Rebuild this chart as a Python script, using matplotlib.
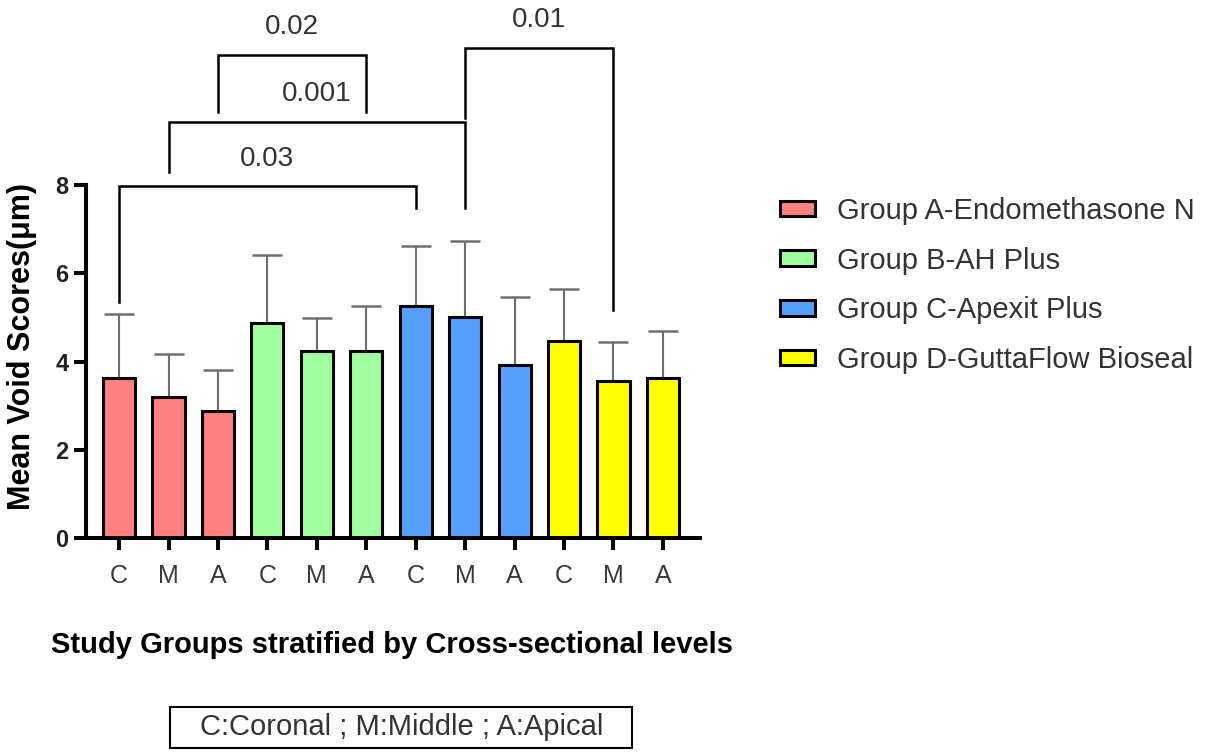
import matplotlib
matplotlib.use('Agg')
import matplotlib.pyplot as plt
from matplotlib.patches import Patch, Rectangle
import numpy as np

plt.rcParams['font.family'] = ['Liberation Sans', 'DejaVu Sans']

groups = ['Group A-Endomethasone N', 'Group B-AH Plus',
          'Group C-Apexit Plus', 'Group D-GuttaFlow Bioseal']
levels = ['C', 'M', 'A']
colors = ['#FF8080', '#A0FFA0', '#55A0FF', '#FFFF00']
means = [[3.62, 3.19, 2.89],
         [4.87, 4.24, 4.24],
         [5.25, 5.01, 3.92],
         [4.46, 3.56, 3.64]]
sds = [[1.47, 0.98, 0.91],
       [1.55, 0.74, 1.03],
       [1.38, 1.73, 1.55],
       [1.18, 0.89, 1.06]]
# (left bar, right bar, bracket height, left leg end, right leg end, p value)
brackets = [
    (0, 6, 7.97, 5.35, 7.48, '0.03'),
    (1, 7, 9.43, 8.30, 7.48, '0.001'),
    (2, 5, 10.94, 9.65, 9.65, '0.02'),
    (7, 10, 11.10, 9.52, 5.17, '0.01'),
]

fig = plt.figure(figsize=(12.05, 7.52), dpi=100)
ax = fig.add_axes([86/1205, 1-538.3/752, 614/1205, 353.3/752])

vals = np.array(means).ravel()
errs = np.array(sds).ravel()
cols = [c for c in colors for _ in levels]
x = np.arange(len(vals))

ax.errorbar(x, vals, yerr=[np.zeros_like(errs), errs], fmt='none',
            ecolor='#6e6e6e', elinewidth=1.5, capsize=11, capthick=1.8, zorder=1)
ax.bar(x, vals, width=0.65, color=cols, edgecolor='black', linewidth=2.2, zorder=2)

ax.set_xlim(-0.67, 11.75)
ax.set_ylim(0, 8)
ax.set_yticks([0, 2, 4, 6, 8])
ax.set_xticks(x)
ax.set_xticklabels(levels * len(groups), fontsize=18, color='#3a3a3a')
for t in ax.get_yticklabels():
    t.set_fontweight('bold')
    t.set_fontsize(17)
    t.set_color('#222222')
ax.tick_params(axis='y', length=8.5, width=2.9, pad=4)
ax.tick_params(axis='x', length=8.5, width=2.9, pad=10)
for s in ['top', 'right']:
    ax.spines[s].set_visible(False)
for s in ['left', 'bottom']:
    ax.spines[s].set_linewidth(2.9)

for (a, b, h, la, lb, p) in brackets:
    ax.plot([a, a, b, b], [la, h, h, lb], color='black', lw=1.8,
            clip_on=False, solid_joinstyle='miter')
    ax.text((a + b) / 2, h + 0.63, p, ha='center', va='center',
            fontsize=20, color='#333333', clip_on=False)

fig.text(22/1205, 1-347/752, 'Mean Void Scores(\u03bcm)', rotation=90,
         ha='center', va='center', fontsize=22, fontweight='bold')
fig.text(392/1205, 1-645/752, 'Study Groups stratified by Cross-sectional levels',
         ha='center', va='center', fontsize=21, fontweight='bold')

handles = [Patch(facecolor=c, edgecolor='black', linewidth=2.2) for c in colors]
fig.legend(handles, groups, loc='upper left', bbox_to_anchor=(780/1205, 1-197/752),
           frameon=False, fontsize=21, handlelength=1.2, handleheight=0.45,
           handletextpad=0.75, labelspacing=0.74, borderpad=0, borderaxespad=0,
           labelcolor='#333333')

fig.text(402/1205, 1-727/752, 'C:Coronal ; M:Middle ; A:Apical',
         ha='center', va='center', fontsize=21, color='#333333')
fig.patches.append(Rectangle((170/1205, 1-748/752), 462/1205, 41/752,
                             transform=fig.transFigure, fill=False,
                             edgecolor='black', lw=1.5))

fig.savefig('out.png', dpi=100)
